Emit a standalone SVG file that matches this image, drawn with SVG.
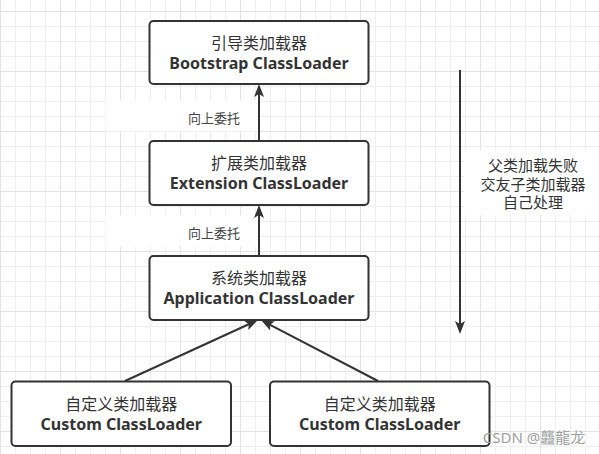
<svg xmlns="http://www.w3.org/2000/svg" width="599" height="454" viewBox="0 0 599 454">
<style>
.box{fill:#fff;stroke:#333;stroke-width:2}
.zh{font-family:"Noto Sans CJK SC","Noto Sans",sans-serif;font-size:16px;fill:#333;text-anchor:middle}
.en{font-family:"Noto Sans","Open Sans",sans-serif;font-size:16px;font-weight:bold;fill:#333;text-anchor:middle}
.lbl{font-family:"Noto Sans CJK SC",sans-serif;font-size:13px;fill:#444;text-anchor:middle}
.note{font-family:"DejaVu Sans","Noto Sans CJK SC",sans-serif;font-size:15px;fill:#333;text-anchor:middle}
.edge{stroke:#333;stroke-width:2;fill:none;marker-end:url(#arr)}
</style>
<defs>
<pattern id="grid" width="60" height="60" patternUnits="userSpaceOnUse" x="0" y="11">
<path d="M15.5 0V60M30.5 0V60M45.5 0V60M0 15.5H60M0 30.5H60M0 45.5H60" stroke="#efefef" stroke-width="1" fill="none"/>
<path d="M0.5 0V60M0 0.5H60" stroke="#e3e3e3" stroke-width="1" fill="none"/>
</pattern>
<marker id="arr" viewBox="0 0 13 10" refX="7" refY="5" markerWidth="13" markerHeight="10" markerUnits="userSpaceOnUse" orient="auto">
<path d="M0,0 L13,5 L0,10 L3,5 Z" fill="#333"/>
</marker>
</defs>
<rect x="0" y="0" width="599" height="454" fill="#fff"/>
<rect x="0" y="0" width="599" height="454" fill="url(#grid)"/>
<rect x="105.5" y="100" width="152.5" height="31.5" fill="#fff"/>
<rect x="105.5" y="215" width="152.5" height="31.5" fill="#fff"/>
<rect x="464" y="150" width="135" height="65" fill="#fff"/>

<g id="connectors">
<line class="edge" x1="259" y1="141" x2="259" y2="90"/>
<line class="edge" x1="259" y1="256" x2="259" y2="211"/>
<line class="edge" x1="125" y1="381" x2="252.5" y2="322.5"/>
<line class="edge" x1="378" y1="381" x2="266.3" y2="322.8"/>
<line class="edge" x1="460" y1="70" x2="460" y2="328"/>
<text class="lbl" x="214" y="122.5">向上委托</text>
<text class="lbl" x="214" y="237.5">向上委托</text>
</g>

<g id="bootstrap">
<rect class="box" x="149.5" y="21" width="219" height="63" rx="4"/>
<text class="zh" x="259" y="49">引导类加载器</text>
<text class="en" x="259" y="69">Bootstrap ClassLoader</text>
</g>
<g id="extension">
<rect class="box" x="149.5" y="141" width="219" height="64" rx="4"/>
<text class="zh" x="259" y="169">扩展类加载器</text>
<text class="en" x="259" y="189">Extension ClassLoader</text>
</g>
<g id="application">
<rect class="box" x="149.5" y="256" width="219" height="64" rx="4"/>
<text class="zh" x="259" y="284">系统类加载器</text>
<text class="en" x="259" y="304">Application ClassLoader</text>
</g>
<g id="custom1">
<rect class="box" x="11.5" y="381.5" width="219.5" height="64.5" rx="4"/>
<text class="zh" x="121.3" y="410">自定义类加载器</text>
<text class="en" x="121.3" y="430">Custom ClassLoader</text>
</g>
<g id="custom2">
<rect class="box" x="270" y="381.5" width="219.5" height="64.5" rx="4"/>
<text class="zh" x="379.7" y="410">自定义类加载器</text>
<text class="en" x="379.7" y="430">Custom ClassLoader</text>
</g>
<g id="note">
<text class="note" x="533" y="171">父类加载失败</text>
<text class="note" x="533" y="189.5">交友子类加载器</text>
<text class="note" x="533" y="208">自己处理</text>
</g>
<text x="534" y="443" font-family="'Noto Sans','Noto Sans CJK SC',sans-serif" font-size="15" fill="#a0a0a0" text-anchor="middle">CSDN @龘龍龙</text>
</svg>
